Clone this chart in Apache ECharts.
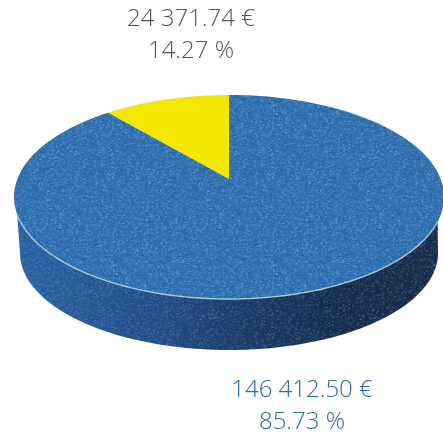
<!DOCTYPE html>
<html><head><meta charset="utf-8">
<style>html,body{margin:0;padding:0;background:#fff}#c{width:443px;height:432px}</style>
<script src="https://cdn.jsdelivr.net/npm/echarts@6/dist/echarts.min.js"></script>
</head><body><div id="c"></div>
<script>
const amounts = [24371.74, 146412.50];
const amountLabels = ['24 371.74 €', '146 412.50 €'];
const percentLabels = ['14.27 %', '85.73 %'];
const sliceColors = ['#f3e600', '#2f70b0'];
const labelColors = ['#555555', '#2a6aa6'];

const top_ = {cx: 229, cy: 197, rx: 215, ry: 102, apexY: 179};
const low = {cx: 229, cy: 253, rx: 209, ry: 97};
const tilt = 0.544;
const total = amounts.reduce((a, b) => a + b, 0);

function toParam(theta) {
  let t = Math.atan2(tilt * Math.sin(theta), Math.cos(theta));
  if (t < 0) t += Math.PI * 2;
  if (theta >= Math.PI * 2 - 1e-9) t = Math.PI * 2;
  return t;
}
function pt(e, t) { return [e.cx - e.rx * Math.sin(t), e.cy - e.ry * Math.cos(t)]; }
function arc(e, a, b) {
  const n = 160, out = [];
  for (let i = 0; i <= n; i++) out.push(pt(e, a + (b - a) * i / n));
  return out;
}
function noise(alpha, bright, dark) {
  const s = 160, cv = document.createElement('canvas');
  cv.width = cv.height = s;
  const g = cv.getContext('2d');
  let h = 12345;
  for (let y = 0; y < s; y++) for (let x = 0; x < s; x++) {
    h = (h * 1103515245 + 12345) & 0x7fffffff;
    const v = (h >> 16) % 100;
    if (v < 24) { g.fillStyle = 'rgba(' + bright + ',' + (alpha * (v + 8) / 32) + ')'; g.fillRect(x, y, 1 + (v % 2), 1 + (v % 3 === 0 ? 1 : 0)); }
    else if (v > 80) { g.fillStyle = 'rgba(20,60,115,' + dark + ')'; g.fillRect(x, y, 2, 1); }
  }
  return cv;
}
const grain = noise(0.26, '130,190,225', 0.12);
const wallGrain = noise(0.22, '110,165,205', 0.14);

const chart = echarts.init(document.getElementById('c'), null, {renderer: 'canvas'});
function labelEls(i, x, y0) {
  const mk = (text, y) => ({type: 'text', x: x, y: y, style: {text, font: '300 24px "Open Sans"', fill: labelColors[i], textAlign: 'center', textVerticalAlign: 'middle'}});
  return [mk(amountLabels[i], y0), mk(percentLabels[i], y0 + 32)];
}
chart.setOption({
  animation: false,
  backgroundColor: '#fff',
  graphic: {elements: [...labelEls(0, 191, 19), ...labelEls(1, 302, 390)]},
  series: [
    {
      type: 'custom', coordinateSystem: 'none', silent: true, z: 1,
      data: [[total]],
      renderItem: function () {
        const a = 100 * Math.PI / 180, b = 256 * Math.PI / 180;
        const pts = [pt(top_, a), ...arc(low, Math.PI / 2, Math.PI * 1.5), pt(top_, b)];
        const shape = {points: pts};
        return {type: 'group', children: [
          {type: 'polygon', shape, style: {fill: new echarts.graphic.LinearGradient(0, 0, 1, 0, [
            {offset: 0, color: '#2c66a6'}, {offset: 0.3, color: '#24528c'},
            {offset: 0.55, color: '#1c3a66'}, {offset: 0.8, color: '#172a47'}, {offset: 1, color: '#1a2c48'}])}},
          {type: 'polygon', shape, style: {fill: {image: wallGrain, repeat: 'repeat'}}}
        ]};
      }
    },
    {
      type: 'custom', coordinateSystem: 'none', silent: true, z: 2,
      data: amounts.map((v, i) => [v, i]),
      renderItem: function (params, api) {
        const i = params.dataIndex;
        let before = 0;
        for (let k = 0; k < i; k++) before += amounts[k];
        const a = toParam(before / total * Math.PI * 2);
        const b = toParam((before + api.value(0)) / total * Math.PI * 2);
        const pts = [[top_.cx, top_.apexY], ...arc(top_, a, b)];
        const kids = [{type: 'polygon', shape: {points: pts}, style: {fill: sliceColors[i]}}];
        if (i === 1) kids.push({type: 'polygon', shape: {points: pts}, style: {fill: {image: grain, repeat: 'repeat'}}});
        return {type: 'group', children: kids};
      }
    },
    {
      type: 'custom', coordinateSystem: 'none', silent: true, z: 3,
      data: [[total]],
      renderItem: function () {
        return {type: 'polyline', shape: {points: arc(top_, 100 * Math.PI / 180, 256 * Math.PI / 180)},
          style: {fill: null, stroke: '#a9c9d2', lineWidth: 1.4}};
      }
    }
  ]
});
</script></body></html>
